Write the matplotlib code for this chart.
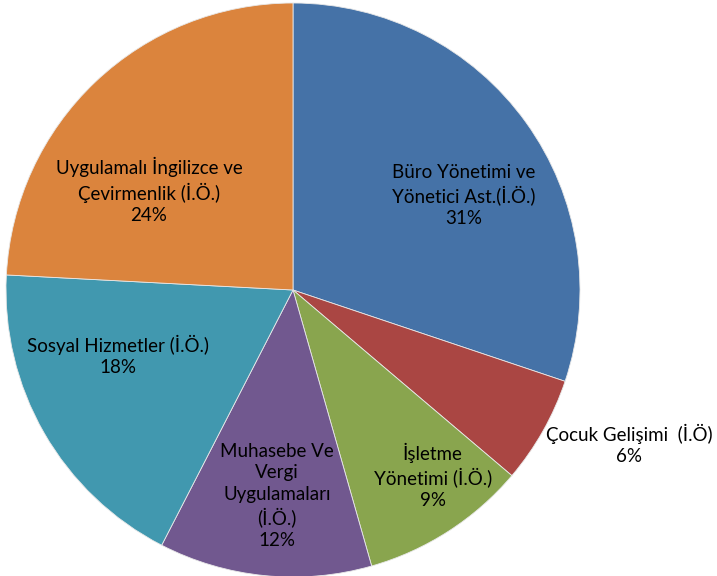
import matplotlib
matplotlib.use('Agg')
import matplotlib.pyplot as plt
import numpy as np

plt.rcParams['font.family'] = ['Lato', 'DejaVu Sans']

labels = ['Büro Yönetimi ve\nYönetici Ast.(İ.Ö.)',
          'Çocuk Gelişimi  (İ.Ö)',
          'İşletme\nYönetimi (İ.Ö.)',
          'Muhasebe Ve\nVergi\nUygulamaları\n(İ.Ö.)',
          'Sosyal Hizmetler (İ.Ö.)',
          'Uygulamalı İngilizce ve\nÇevirmenlik (İ.Ö.)']
values = [30.2, 6.05, 9.4, 12.0, 18.3, 24.2]
pct_labels = ['31%', '6%', '9%', '12%', '18%', '24%']
colors = ['#4572A7', '#AA4643', '#89A54E', '#71588F', '#4198AF', '#DB843D']

# label placement (angle in degrees, radius as fraction of pie radius)
label_pos = [(29, 0.68), (-24.7, 1.29), (-53, 0.81), (-94.4, 0.72),
             (-159.6, 0.65), (145.4, 0.61)]

fig = plt.figure(figsize=(7.17, 5.76), dpi=100)
ax = fig.add_axes([6 / 717, -1 / 576, 574 / 717, 574 / 576])
wedges, _ = ax.pie(values, colors=colors, startangle=90, counterclock=False,
                   wedgeprops=dict(edgecolor='#e8e8e8', linewidth=0.6))
ax.set_xlim(-1, 1)
ax.set_ylim(-1, 1)
ax.set_aspect('equal')
ax.axis('off')

for lab, pct, (a, r) in zip(labels, pct_labels, label_pos):
    t = np.radians(a)
    ax.text(r * np.cos(t), r * np.sin(t), lab + '\n' + pct, ha='center', va='center',
            fontsize=13.5, color='black', linespacing=1.3)

fig.savefig('out.png', dpi=100)
